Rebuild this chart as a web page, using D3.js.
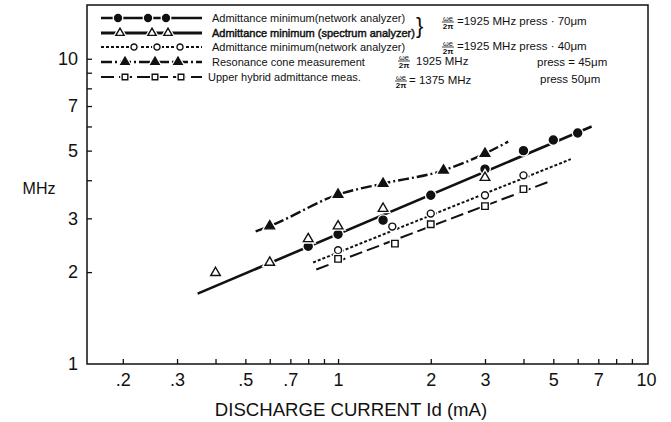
<!DOCTYPE html>
<html><head><meta charset="utf-8">
<script src="https://cdn.jsdelivr.net/npm/d3@7"></script>
<style>
body{margin:0;background:#fff;}
text{font-family:"Liberation Sans",Arial,sans-serif;fill:#111;}
</style></head>
<body><svg id="c" width="671" height="422"></svg>
<script>
// ---- data ----
const xTickValues = [0.2,0.3,0.4,0.5,0.6,0.7,0.8,0.9,1,2,3,4,5,6,7,8,9];
const xLabelValues = [0.2,0.3,0.5,0.7,1,2,3,5,7,10];
const xLabelTexts = [".2",".3",".5",".7","1","2","3","5","7","10"];
const yTickValues = [2,3,4,5,6,7,8,9,10];
const yLabelValues = [1,2,3,5,7,10];
const yLabelTexts = ["1","2","3","5","7","10"];

// Admittance minimum (network analyzer), 70 um  (filled circles)
const net70X = [0.8,1,1.4,2,3,4,5,6];
const net70Y = [2.43,2.66,2.96,3.57,4.35,5.0,5.42,5.71];
// Admittance minimum (spectrum analyzer), 70 um (open triangles)
const spec70X = [0.4,0.6,0.8,1,1.4,3];
const spec70Y = [1.99,2.15,2.57,2.83,3.23,4.08];
// Admittance minimum (network analyzer), 40 um (open circles)
const net40X = [1,1.5,2,3,4];
const net40Y = [2.36,2.82,3.11,3.57,4.15];
// Resonance cone measurement, 45 um (filled triangles)
const coneX = [0.6,1,1.4,2.2,3];
const coneY = [2.83,3.59,3.90,4.31,4.89];
// Upper hybrid admittance meas., 50 um (open squares)
const uhX = [1,1.53,2,3,4];
const uhY = [2.21,2.48,2.87,3.29,3.74];

// drawn curves
const line70X = [0.35,6.66], line70Y = [1.70,6.0];
const line40X = [0.83,5.7], line40Y = [2.15,4.69];
const lineConeX = [0.54,0.6,1,1.4,2.2,3,3.57], lineConeY = [2.72,2.83,3.59,3.90,4.31,4.89,5.35];
const lineUhX = [0.85,4.85], lineUhY = [2.04,3.96];

const legendLabels = ["Admittance minimum(network analyzer)","Admittance minimum (spectrum analyzer)",
  "Admittance minimum(network analyzer)","Resonance cone measurement","Upper hybrid admittance meas."];

// ---- layout ----
const svg = d3.select("#c");
const L=87, R=648, T=5, B=364;
const x = d3.scaleLog().domain([0.153,10]).range([L,646]);
const y = d3.scaleLog().domain([1,15]).range([B,T]);

// frame
svg.append("rect").attr("x",L).attr("y",T).attr("width",R-L).attr("height",B-T)
  .attr("fill","none").attr("stroke","#111").attr("stroke-width",1.5);

const near=(a,b)=>Math.abs(a-b)<1e-9;
// x axis
const gx = svg.append("g").attr("transform",`translate(0,${B})`)
  .call(d3.axisBottom(x).tickValues(xTickValues).tickSizeInner(-5).tickSizeOuter(0).tickFormat(()=>""));
gx.select(".domain").remove();
gx.selectAll("line").attr("stroke","#111").attr("stroke-width",1.3);
const gxl = svg.append("g").attr("transform",`translate(0,${B})`)
  .call(d3.axisBottom(x).tickValues(xLabelValues).tickSize(0).tickPadding(9)
  .tickFormat(d=>xLabelTexts[xLabelValues.findIndex(v=>near(v,d))]));
gxl.select(".domain").remove();
gxl.selectAll("text").attr("font-size",18).attr("font-family","Liberation Sans, Arial").attr("fill","#111");

// y axis
const gy = svg.append("g").attr("transform",`translate(${L},0)`)
  .call(d3.axisLeft(y).tickValues(yTickValues).tickSizeInner(-5).tickSizeOuter(0).tickFormat(()=>""));
gy.select(".domain").remove();
gy.selectAll("line").attr("stroke","#111").attr("stroke-width",1.3);
const gyl = svg.append("g").attr("transform",`translate(${L},0)`)
  .call(d3.axisLeft(y).tickValues(yLabelValues).tickSize(0).tickPadding(9)
  .tickFormat(d=>yLabelTexts[yLabelValues.findIndex(v=>near(v,d))]));
gyl.select(".domain").remove();
gyl.selectAll("text").attr("font-size",18).attr("font-family","Liberation Sans, Arial").attr("fill","#111");

svg.append("text").attr("x",39).attr("y",194).attr("text-anchor","middle").attr("font-size",16).text("MHz");
svg.append("text").attr("x",351).attr("y",416).attr("text-anchor","middle").attr("font-size",18.6).text("DISCHARGE CURRENT Id (mA)");

// ---- series ----
const styles = [
  {dash:null, w:2.6},          // 70 um line
  {dash:"3,2", w:2.0},         // 40 um
  {dash:"11,3,2,3", w:2.4},    // resonance cone
  {dash:"13,5", w:2.0}         // upper hybrid
];
function drawLine(xs,ys,st,curve){
  const pts = xs.map((v,i)=>[x(v),y(ys[i])]);
  svg.append("path").attr("d",d3.line().curve(curve||d3.curveLinear)(pts))
    .attr("fill","none").attr("stroke","#111").attr("stroke-width",st.w)
    .attr("stroke-dasharray",st.dash);
}
drawLine(line70X,line70Y,styles[0]);
drawLine(line40X,line40Y,styles[1]);
drawLine(lineConeX,lineConeY,styles[2],d3.curveMonotoneX);
drawLine(lineUhX,lineUhY,styles[3]);

const markers = {
  fcircle:{type:d3.symbolCircle,size:50,fill:"#111"},
  otri:{type:d3.symbolTriangle,size:40,fill:"#fff"},
  ocircle:{type:d3.symbolCircle,size:38,fill:"#fff"},
  ftri:{type:d3.symbolTriangle,size:40,fill:"#111"},
  osq:{type:d3.symbolSquare,size:42,fill:"#fff"}
};
function drawMarker(g,mk,cx,cy,sc){
  const p = d3.symbol().type(mk.type).size(mk.size*(sc||1))();
  g.append("path").attr("d",p).attr("transform",`translate(${cx},${cy})`)
    .attr("fill","#fff").attr("stroke","#fff").attr("stroke-width",4);
  g.append("path").attr("d",p).attr("transform",`translate(${cx},${cy})`)
    .attr("fill",mk.fill).attr("stroke","#111").attr("stroke-width",1.4);
}
function drawPoints(xs,ys,mk){
  const g = svg.append("g");
  xs.forEach((v,i)=>drawMarker(g,mk,x(v),y(ys[i])));
}
drawPoints(net70X,net70Y,markers.fcircle);
drawPoints(spec70X,spec70Y,markers.otri);
drawPoints(net40X,net40Y,markers.ocircle);
drawPoints(coneX,coneY,markers.ftri);
drawPoints(uhX,uhY,markers.osq);

// ---- legend ----
const rowY = [18,33,47,62,77];
const legStyles = [styles[0],{dash:null,w:3},styles[1],styles[2],styles[3]];
const legMk = [markers.fcircle,markers.otri,markers.ocircle,markers.ftri,markers.osq];
const legMkX = [[118,148,166],[120,152,168],[134,157,180],[125,155,178],[125,155,181]];
const lg = svg.append("g");
legendLabels.forEach((lab,i)=>{
  const yy=rowY[i];
  lg.append("line").attr("x1",101).attr("x2",202).attr("y1",yy).attr("y2",yy)
    .attr("stroke","#111").attr("stroke-width",legStyles[i].w).attr("stroke-dasharray",legStyles[i].dash);
  legMkX[i].forEach(mx=>drawMarker(lg,legMk[i],mx,yy,0.75));
  const t = lg.append("text").attr("x",i===4?208:212).attr("y",yy+4).attr("font-size",11).text(lab);
  if(i===1) t.attr("stroke","#111").attr("stroke-width",0.45);
});
// brace for first two rows
lg.append("text").attr("x",416).attr("y",33).attr("font-size",22).text("}");

function frac(xc,yc){
  lg.append("text").attr("x",xc).attr("y",yc-1.5).attr("text-anchor","middle").attr("font-size",7.5).text("ωe");
  lg.append("line").attr("x1",xc-6).attr("x2",xc+6).attr("y1",yc).attr("y2",yc).attr("stroke","#111").attr("stroke-width",0.8);
  lg.append("text").attr("x",xc).attr("y",yc+7).attr("text-anchor","middle").attr("font-size",8).attr("font-weight","bold").text("2π");
}
frac(448,22); lg.append("text").attr("x",457).attr("y",25).attr("font-size",11.5).text("=1925 MHz press · 70μm");
frac(448,47); lg.append("text").attr("x",457).attr("y",50).attr("font-size",11.5).text("=1925 MHz press · 40μm");
frac(404,61); lg.append("text").attr("x",416).attr("y",65).attr("font-size",11.5).text("1925 MHz");
lg.append("text").attr("x",537).attr("y",66).attr("font-size",11.5).text("press = 45μm");
frac(401,81); lg.append("text").attr("x",409).attr("y",84).attr("font-size",11.5).text("= 1375 MHz");
lg.append("text").attr("x",540).attr("y",83).attr("font-size",11.5).text("press   50μm");
</script></body></html>
